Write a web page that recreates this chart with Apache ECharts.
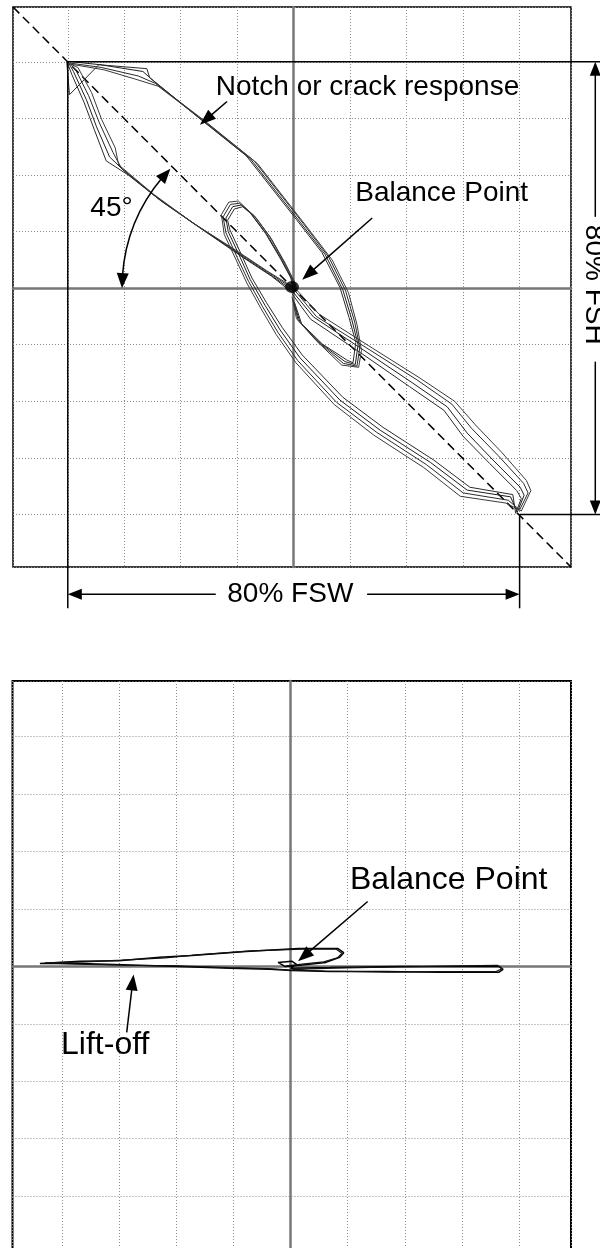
<!DOCTYPE html>
<html><head><meta charset="utf-8">
<script src="https://cdn.jsdelivr.net/npm/echarts@6/dist/echarts.min.js"></script>
<style>html,body{margin:0;padding:0;background:#fff}#c{width:600px;height:1248px}</style>
</head><body><div id="c"></div>
<script>
// ---------- DATA (screen divisions, centre = 0,0) ----------
const topTraceA = [[-0.01,-0.07],[0.35,-0.51],[1.23,-1.09],[2.11,-1.68],[2.72,-2.10],[3.07,-2.56],[3.53,-3.04],[4.01,-3.52],[4.08,-3.66],[3.96,-3.96],[3.84,-3.69],[3.07,-3.57],[2.42,-3.08],[1.53,-2.51],[0.82,-1.98],[0.11,-1.23],[-0.24,-0.74],[-0.51,-0.30],[-0.77,0.15],[-0.95,0.55],[-1.16,1.00],[-1.20,1.24],[-1.08,1.44],[-0.93,1.47],[-0.74,1.30],[-0.47,0.94],[-0.21,0.50],[-0.03,0.15],[0.02,-0.07],[-0.42,0.24],[-0.95,0.59],[-1.66,1.07],[-2.37,1.56],[-2.99,2.06],[-3.26,2.32],[-3.49,2.85],[-3.67,3.33],[-3.90,3.83],[-4.00,4.01],[-3.43,3.95],[-2.67,3.83],[-2.51,3.69],[-1.66,3.00],[-0.77,2.29],[0.11,1.17],[0.56,0.59],[0.87,-0.03],[1.03,-0.56],[1.14,-1.00],[1.09,-1.35],[0.91,-1.30],[0.47,-0.97],[0.11,-0.60],[-0.01,-0.21]];
const topTraceB = [[0.02,-0.04],[0.40,-0.50],[1.28,-1.05],[2.18,-1.62],[2.80,-2.05],[3.15,-2.48],[3.62,-2.96],[4.07,-3.45],[4.15,-3.62],[4.00,-3.92],[3.80,-3.75],[3.00,-3.62],[2.35,-3.12],[1.47,-2.55],[0.76,-2.02],[0.07,-1.28],[-0.28,-0.78],[-0.55,-0.33],[-0.80,0.12],[-0.99,0.52],[-1.20,0.98],[-1.25,1.26],[-1.12,1.48],[-0.96,1.50],[-0.70,1.28],[-0.43,0.92],[-0.18,0.48],[0.00,0.12],[0.03,-0.04],[-0.45,0.28],[-1.00,0.64],[-1.72,1.11],[-2.42,1.60],[-3.05,2.12],[-3.20,2.40],[-3.44,2.92],[-3.63,3.40],[-3.86,3.86],[-3.97,3.98],[-3.40,3.90],[-2.75,3.75],[-2.45,3.62],[-1.58,2.96],[-0.70,2.25],[0.17,1.14],[0.62,0.55],[0.92,-0.05],[1.08,-0.60],[1.17,-1.05],[1.12,-1.38],[0.88,-1.33],[0.43,-0.95],[0.08,-0.57],[-0.02,-0.18]];
const topTraceC = [[-0.03,-0.10],[0.30,-0.55],[1.18,-1.14],[2.05,-1.74],[2.66,-2.16],[3.00,-2.62],[3.47,-3.10],[3.95,-3.58],[4.03,-3.72],[3.93,-3.98],[3.88,-3.65],[3.12,-3.52],[2.48,-3.04],[1.58,-2.46],[0.87,-1.93],[0.15,-1.18],[-0.20,-0.70],[-0.48,-0.26],[-0.74,0.18],[-0.92,0.58],[-1.13,1.03],[-1.17,1.20],[-1.05,1.40],[-0.90,1.44],[-0.77,1.33],[-0.50,0.97],[-0.24,0.53],[-0.05,0.18],[0.00,-0.10],[-0.39,0.21],[-0.91,0.55],[-1.61,1.03],[-2.32,1.52],[-2.93,2.00],[-3.32,2.25],[-3.53,2.80],[-3.71,3.28],[-3.93,3.78],[-4.02,4.02],[-3.97,3.42],[-3.45,3.95],[-2.60,3.88],[-2.55,3.72],[-1.73,3.05],[-0.84,2.34],[0.05,1.21],[0.50,0.63],[0.82,0.01],[0.98,-0.52],[1.10,-0.96],[1.05,-1.32],[0.94,-1.27],[0.51,-0.99],[0.14,-0.63],[0.01,-0.24]];
const topTraceD = [[0.04,-0.02],[0.45,-0.46],[1.33,-1.02],[2.22,-1.58],[2.85,-2.00],[3.22,-2.42],[3.68,-2.90],[4.12,-3.40],[4.20,-3.58],[4.03,-3.94],[3.76,-3.80],[2.95,-3.68],[2.30,-3.17],[1.42,-2.60],[0.72,-2.06],[0.04,-1.32],[-0.31,-0.82],[-0.58,-0.36],[-0.83,0.09],[-1.02,0.50],[-1.23,0.95],[-1.28,1.30],[-1.15,1.52],[-0.98,1.54],[-0.67,1.25],[-0.40,0.88],[-0.15,0.44],[0.02,0.10],[0.05,-0.02],[-0.48,0.31],[-1.04,0.68],[-1.78,1.15],[-2.48,1.66],[-3.10,2.18],[-3.16,2.48],[-3.40,2.98],[-3.58,3.46],[-3.82,3.90],[-3.95,3.96],[-3.36,3.86],[-2.82,3.70],[-2.40,3.57],[-1.52,2.90],[-0.64,2.20],[0.22,1.10],[0.68,0.50],[0.97,-0.08],[1.12,-0.64],[1.20,-1.10],[1.15,-1.40],[0.85,-1.36],[0.40,-0.93],[0.05,-0.54],[-0.03,-0.15]];
const topBalancePoint = [[-0.03,0.02]];
const diagonalLine = [[-4.97,4.97],[4.91,-4.93]];

const bottomTraceA = [[0.00,-0.03],[0.69,-0.02],[1.91,0.00],[2.96,0.00],[3.65,0.00],[3.72,-0.05],[3.65,-0.10],[2.61,-0.10],[1.63,-0.09],[0.69,-0.09],[0.02,-0.07],[-0.36,-0.05],[-1.06,-0.03],[-1.94,0.00],[-2.94,0.03],[-3.69,0.05],[-4.39,0.05],[-3.69,0.09],[-3.01,0.10],[-2.29,0.16],[-1.73,0.19],[-0.78,0.26],[0.14,0.31],[0.83,0.31],[0.93,0.24],[0.86,0.16],[0.62,0.07],[0.16,0.02],[-0.10,0.00],[-0.22,0.07],[0.02,0.09],[0.11,0.03],[0.00,-0.02]];
const bottomTraceB = [[0.03,-0.05],[0.75,-0.03],[1.85,-0.01],[3.00,0.01],[3.62,0.02],[3.70,-0.04],[3.60,-0.09],[2.55,-0.09],[1.70,-0.10],[0.60,-0.08],[-0.05,-0.06],[-0.40,-0.04],[-1.10,-0.02],[-2.00,0.01],[-2.90,0.02],[-3.75,0.04],[-4.30,0.06],[-3.60,0.08],[-2.95,0.11],[-2.20,0.15],[-1.65,0.20],[-0.70,0.27],[0.20,0.30],[0.80,0.30],[0.90,0.23],[0.82,0.15],[0.58,0.08],[0.12,0.03],[-0.08,0.01]];

// ---------- annotations (data units) ----------
const topTexts = [
  {text:'Notch or crack response', at:[-1.38,3.55], align:'left'},
  {text:'Balance Point', at:[1.09,1.67], align:'left'},
  {text:'45°', at:[-3.60,1.42], align:'left'},
  {text:'80% FSW', at:[-0.06,-5.41], align:'center'},
  {text:'80% FSH', at:[5.31,0.06], align:'center', vertical:true}
];
const bottomTexts = [
  {text:'Balance Point', at:[1.04,1.50], align:'left'},
  {text:'Lift-off', at:[-4.02,-1.38], align:'left'}
];
const topPointers = [ {from:[-1.18,3.30], to:[-1.66,2.89]}, {from:[1.39,1.24], to:[0.15,0.15]} ];
const bottomPointers = [ {from:[1.35,1.13], to:[0.13,0.09]}, {from:[-2.87,-1.15], to:[-2.75,-0.14]} ];
const dimLines = [ [[-4,4],[5.43,4]], [[-4,4],[-4,-5.66]], [[4,-4],[4,-5.66]], [[4,-4],[5.43,-4]] ];
const dimArrows = [ {from:[-1.38,-5.41], to:[-4,-5.41]}, {from:[1.30,-5.41], to:[4,-5.41]}, {from:[5.34,1.26], to:[5.34,4]}, {from:[5.34,-1.30], to:[5.34,-4]} ];

const FONT = '"Liberation Sans", Arial, Helvetica, sans-serif';
const chart = echarts.init(document.getElementById('c'), null, {renderer:'canvas'});

const gridLine = {show:true, lineStyle:{color:'#8a8a8a', width:1, type:[1,2]}};
function mkAxis(idx, min, max){
  return {type:'value', gridIndex:idx, min:min, max:max, splitNumber:10, minInterval:1, maxInterval:1,
    axisLabel:{show:false}, axisTick:{show:false},
    axisLine:{show:true, onZero:true, lineStyle:{color:'#777', width:2.5}},
    splitLine:gridLine};
}
function trace(data, g, color, width){
  return {type:'line', xAxisIndex:g, yAxisIndex:g, data:data, symbol:'none', showSymbol:false,
    lineStyle:{color:color, width:width}, silent:true, animation:false, z:3};
}

chart.setOption({
  animation:false,
  grid:[
    {left:13, top:7, width:558, height:560, outerBoundsMode:'none', containLabel:false, show:true, borderColor:'#000', borderWidth:1.5, backgroundColor:'transparent'},
    {left:12.5, top:681, width:558.5, height:576, outerBoundsMode:'none', containLabel:false, show:true, borderColor:'#000', borderWidth:2, backgroundColor:'transparent'}
  ],
  xAxis:[mkAxis(0,-4.97,4.91), mkAxis(1,-4.87,4.91)],
  yAxis:[mkAxis(0,-4.93,4.97), mkAxis(1,-5.06,4.97)],
  series:[
    {type:'line', xAxisIndex:0, yAxisIndex:0, data:diagonalLine, symbol:'none', lineStyle:{color:'#000', width:1.5, type:[9,5]}, silent:true, z:2},
    trace(topTraceA,0,'#1e1e1e',1),
    trace(topTraceB,0,'#2a2a2a',1),
    trace(topTraceC,0,'#2a2a2a',1),
    trace(topTraceD,0,'#3a3a3a',1),
    {type:'scatter', xAxisIndex:0, yAxisIndex:0, data:topBalancePoint, symbol:'circle', symbolSize:[14,12], itemStyle:{color:'#000'}, silent:true, z:4},
    trace(bottomTraceA,1,'#000',1.5),
    trace(bottomTraceB,1,'#111',1.2)
  ]
});

function P(g, pt){ return chart.convertToPixel({gridIndex:g}, pt); }
function head(tip, from, len, hw){
  const dx=tip[0]-from[0], dy=tip[1]-from[1], d=Math.hypot(dx,dy), ux=dx/d, uy=dy/d;
  const bx=tip[0]-ux*len, by=tip[1]-uy*len;
  return {type:'polygon', z:50, shape:{points:[[tip[0],tip[1]],[bx-uy*hw,by+ux*hw],[bx+uy*hw,by-ux*hw]]}, style:{fill:'#000'}};
}
function seg(a,b,w){ return {type:'line', z:50, shape:{x1:a[0],y1:a[1],x2:b[0],y2:b[1]}, style:{stroke:'#000', lineWidth:w}}; }
const gfx = [];
function addArrow(g, ar, len, hw, w){
  const a=P(g,ar.from), b=P(g,ar.to);
  const dx=b[0]-a[0], dy=b[1]-a[1], d=Math.hypot(dx,dy);
  const e=[b[0]-dx/d*(len-2), b[1]-dy/d*(len-2)];
  gfx.push(seg(a,e,w)); gfx.push(head(b,a,len,hw));
}
function addText(g, t, size){
  const p=P(g,t.at);
  gfx.push({type:'text', z:60, x:p[0], y:p[1], rotation: t.vertical ? -Math.PI/2 : 0,
    style:{text:t.text, fill:'#000', fontSize:size, fontFamily:FONT, align:t.align, verticalAlign:'middle'}});
}
dimLines.forEach(l=>gfx.push(seg(P(0,l[0]),P(0,l[1]),1.5)));
dimArrows.forEach(a=>addArrow(0,a,14,5.5,1.5));
topPointers.forEach(a=>addArrow(0,a,16,6,1.5));
bottomPointers.forEach(a=>addArrow(1,a,16,6,1.5));
topTexts.forEach(t=>addText(0,t,28));
bottomTexts.forEach(t=>addText(1,t,32));
// 45° arc about the centre
const c0=P(0,[0,0]), left=P(0,[-3.04,0]);
const r=c0[0]-left[0];
const a0=Math.PI, a1=Math.PI*1.245;
gfx.push({type:'arc', z:50, shape:{cx:c0[0], cy:c0[1], r:r, startAngle:a0+0.07, endAngle:a1-0.07, clockwise:true}, style:{stroke:'#000', lineWidth:1.5, fill:null}});
const tipL=[c0[0]+r*Math.cos(a0), c0[1]+r*Math.sin(a0)];
const fromL=[c0[0]+r*Math.cos(a0+0.1), c0[1]+r*Math.sin(a0+0.1)];
const tipU=[c0[0]+r*Math.cos(a1), c0[1]+r*Math.sin(a1)];
const fromU=[c0[0]+r*Math.cos(a1-0.1), c0[1]+r*Math.sin(a1-0.1)];
gfx.push(head(tipL,fromL,15,6)); gfx.push(head(tipU,fromU,15,6));
chart.setOption({graphic:{elements:gfx}});
</script></body></html>
